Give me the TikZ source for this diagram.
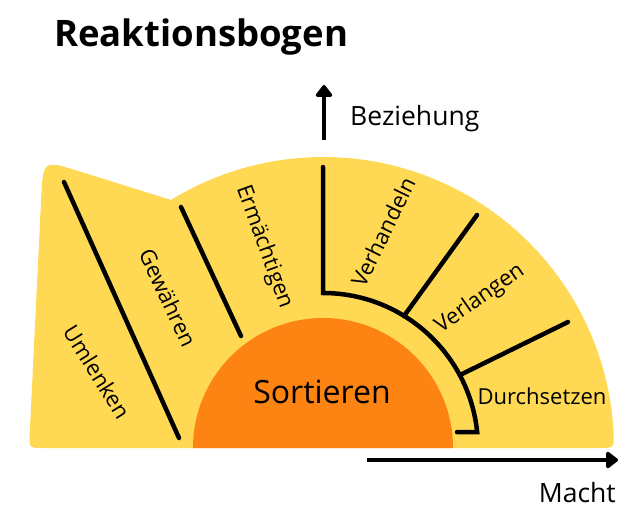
\documentclass[tikz,border=0pt]{standalone}
\usepackage{fontspec}
\setmainfont{Open Sans}
\usetikzlibrary{arrows.meta}
\definecolor{ybg}{HTML}{FFD954}
\definecolor{oran}{HTML}{FD8313}
\tikzset{
  blk/.style={line width=4.5pt, line cap=round, black},
  lbl/.style={inner sep=0pt, font=\fontsize{22}{25}\selectfont},
  axis/.style={line width=4.5pt, -{Triangle[length=13pt,width=19pt,round]}},
}
\begin{document}
\begin{tikzpicture}[x=1pt,y=-1pt]
\useasboundingbox (0,0) rectangle (644,527);
% yellow fan
\coordinate (c) at (323,448);
\coordinate (s) at (613.65,433.8);
\fill[ybg] (s) arc[start angle=-2.8, end angle=-121.5, radius=291]
  -- (78,170.9) .. controls (43,160) .. (41.1,200)
  -- (29.7,434) .. controls (29,448) .. (44,448)
  -- (599,448) .. controls (614,448) .. (s) -- cycle;
% orange half disc
\fill[oran] (193,448) arc[start angle=180, end angle=360, radius=130] -- cycle;
% left lines
\coordinate (u1) at (64,182); \coordinate (u2) at (179,438);
\coordinate (g1) at (181,207); \coordinate (g2) at (241,336);
\draw[blk] (u1) -- (u2);
\draw[blk] (g1) -- (g2);
% right bracket
\coordinate (v1) at (323,167); \coordinate (v2) at (323,293);
\coordinate (h) at (457,432.1);
\draw[blk, line join=miter] (v1) -- (v2) arc[start angle=-90, end angle=-5.9, radius=155] -- (h);
\coordinate (l1) at (404,316); \coordinate (l2) at (477,215);
\coordinate (d1) at (460,375); \coordinate (d2) at (568,322);
\draw[blk] (l1) -- (l2);
\draw[blk] (d1) -- (d2);
% labels
\node[lbl, rotate=-58] (um) at (97,372) {Umlenken};
\node[lbl, rotate=-65] (gw) at (168,298) {Gewähren};
\node[lbl, rotate=-70] (er) at (264,247) {Ermächtigen};
\node[lbl, rotate=64] (vh) at (383,232) {Verhandeln};
\node[lbl, rotate=35] (vl) at (480,299) {Verlangen};
\node[lbl, anchor=base] (ds) at (542,404) {Durchsetzen};
\node[inner sep=0pt, anchor=base, font=\fontsize{32}{36}\selectfont] (so) at (322,403) {Sortieren};
% title
\node[inner sep=0pt, anchor=base west, font=\fontsize{36.5}{40}\selectfont\bfseries] (title) at (54,47) {Reaktionsbogen};
% axes
\coordinate (b1) at (324,140); \coordinate (b2) at (324,85);
\draw[axis] (b1) -- (b2);
\node[inner sep=0pt, anchor=base west, font=\fontsize{26.5}{30}\selectfont] (bz) at (350,125) {Beziehung};
\coordinate (m1) at (367,460); \coordinate (m2) at (618,460);
\draw[axis] (m1) -- (m2);
\node[inner sep=0pt, anchor=base east, font=\fontsize{26.5}{30}\selectfont] (mc) at (616,502) {Macht};
\end{tikzpicture}
\end{document}
